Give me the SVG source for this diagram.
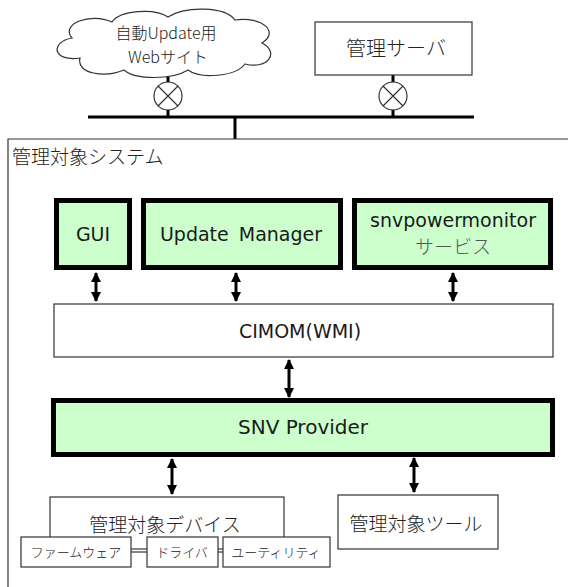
<svg xmlns="http://www.w3.org/2000/svg" width="568" height="587" viewBox="0 0 568 587">
<style>
.jp{font-family:"Noto Sans CJK JP","Noto Sans",sans-serif;fill:#222;font-weight:300;}
.vd{font-family:"DejaVu Sans",Verdana,sans-serif;fill:#1a1a1a;}
.green{fill:#ccffcc;stroke:#000;stroke-width:5;}
.white{fill:#fff;stroke:#333;stroke-width:1.2;}
.ln{stroke:#000;stroke-width:3;fill:none;}
.arr{stroke:#000;stroke-width:3;fill:none;marker-start:url(#ah);marker-end:url(#ah);}
</style>
<defs>
<marker id="ah" viewBox="0 0 10 10" refX="9" refY="5" markerWidth="3.4" markerHeight="3.4" orient="auto-start-reverse" markerUnits="strokeWidth">
<path d="M0,0 L10,5 L0,10 Z" fill="#000"/>
</marker>
</defs>
<rect width="568" height="587" fill="#fff"/>
<g id="network">
<line class="ln" x1="88" y1="117" x2="474" y2="117" stroke-width="3.5"/>
<line class="ln" x1="235" y1="117" x2="235" y2="139"/>
<line class="ln" x1="168" y1="72" x2="168" y2="117"/>
<line class="ln" x1="393" y1="75" x2="393" y2="117"/>
<g id="router1">
<circle cx="168" cy="96" r="14" fill="#fff" stroke="#333" stroke-width="1.2"/>
<path d="M158,86 L178,106 M178,86 L158,106" stroke="#333" stroke-width="1.2"/>
</g>
<g id="router2">
<circle cx="393" cy="96" r="14" fill="#fff" stroke="#333" stroke-width="1.2"/>
<path d="M383,86 L403,106 M403,86 L383,106" stroke="#333" stroke-width="1.2"/>
</g>
</g>
<g id="cloud">
<path d="M80 58 C52 62,50 42,72 38 C60 24,90 12,112 22 C120 10,155 8,168 17 C185 6,225 6,235 20 C262 16,280 32,262 43 C280 52,268 70,245 64 C235 77,200 79,188 70 C172 80,135 80,124 70 C105 78,76 74,80 58 Z" fill="#fff" stroke="#333" stroke-width="1.2"/>
<text class="jp" x="166" y="39" font-size="16" text-anchor="middle">自動Update用</text>
<text class="jp" x="168" y="63" font-size="16" text-anchor="middle">Webサイト</text>
</g>
<g id="server">
<rect class="white" x="315" y="22" width="157" height="53"/>
<text class="jp" x="396" y="56" font-size="20" text-anchor="middle">管理サーバ</text>
</g>
<g id="system">
<path d="M8,587 L8,139 L568,139" fill="none" stroke="#333" stroke-width="1.2"/>
<text class="jp" x="12" y="164" font-size="19">管理対象システム</text>
</g>
<g id="gui">
<rect class="green" x="56.5" y="200.5" width="73" height="67"/>
<text class="vd" x="93" y="241" font-size="19" text-anchor="middle">GUI</text>
</g>
<g id="update-manager">
<rect class="green" x="143.5" y="200.5" width="197" height="67"/>
<text class="vd" x="241" y="241" font-size="19" text-anchor="middle" word-spacing="4">Update Manager</text>
</g>
<g id="snvpowermonitor">
<rect class="green" x="354.5" y="200.5" width="196" height="67"/>
<text class="vd" x="453" y="227" font-size="19" text-anchor="middle">snvpowermonitor</text>
<text class="jp" x="453" y="254" font-size="19" text-anchor="middle" style="fill:#555">サービス</text>
</g>
<g id="cimom">
<rect class="white" x="54" y="304" width="499" height="53"/>
<text class="vd" x="300" y="338" font-size="19" text-anchor="middle">CIMOM(WMI)</text>
</g>
<g id="snv-provider">
<rect class="green" x="53.5" y="400.5" width="499" height="54"/>
<text class="vd" x="303" y="434" font-size="20" text-anchor="middle">SNV Provider</text>
</g>
<g id="device">
<rect class="white" x="50" y="497" width="234" height="52"/>
<text class="jp" x="165" y="532" font-size="19" text-anchor="middle">管理対象デバイス</text>
</g>
<g id="device-parts">
<line x1="131" y1="552" x2="147" y2="552" stroke="#333" stroke-width="1.2"/>
<line x1="218" y1="552" x2="223" y2="552" stroke="#333" stroke-width="1.2"/>
<g id="firmware">
<rect class="white" x="21" y="537" width="110" height="30"/>
<text class="jp" x="76" y="557" font-size="13" text-anchor="middle">ファームウェア</text>
</g>
<g id="driver">
<rect class="white" x="147" y="537" width="71" height="30"/>
<text class="jp" x="182" y="557" font-size="13" text-anchor="middle">ドライバ</text>
</g>
<g id="utility">
<rect class="white" x="223" y="537" width="107" height="30"/>
<text class="jp" x="276" y="557" font-size="13" text-anchor="middle">ユーティリティ</text>
</g>
</g>
<g id="tool">
<rect class="white" x="338" y="495" width="160" height="54"/>
<text class="jp" x="416" y="531" font-size="19" text-anchor="middle">管理対象ツール</text>
</g>
<g id="connectors">
<line class="arr" x1="96" y1="273" x2="96" y2="301"/>
<line class="arr" x1="236" y1="273" x2="236" y2="301"/>
<line class="arr" x1="453" y1="273" x2="453" y2="301"/>
<line class="arr" x1="289" y1="360" x2="289" y2="397"/>
<line class="arr" x1="172" y1="459" x2="172" y2="494"/>
<line class="arr" x1="414" y1="458" x2="414" y2="492"/>
</g>
</svg>
